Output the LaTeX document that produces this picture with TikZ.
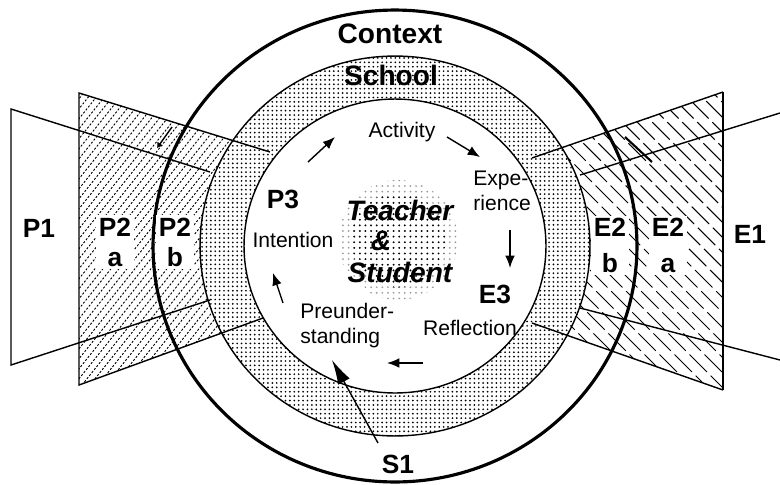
\documentclass[tikz,border=0pt]{standalone}
\usepackage{fontspec}
\setmainfont{Liberation Sans}
\usetikzlibrary{arrows.meta,patterns.meta}

\tikzset{
  bigLabel/.style={font=\fontsize{15}{17}\selectfont\bfseries, inner sep=0pt},
  stepText/.style={font=\fontsize{12}{14.2}\selectfont, inner sep=0pt},
  cycArrow/.style={thick, -{Latex[length=7pt,width=5.5pt]}},
}

\begin{document}
\begin{tikzpicture}[x=0.02cm, y=-0.02cm]
\useasboundingbox (0,0) rectangle (780,484);

\coordinate (cO) at (395,246);
\coordinate (cCore) at (398,240);

% P wedges
\coordinate (cP1TL) at (11,109);
\coordinate (cP1TR) at (210,172);
\coordinate (cP1BL) at (11,365);
\coordinate (cP1BR) at (210,300);
\coordinate (cP2TL) at (79,93);
\coordinate (cP2TR) at (270,152);
\coordinate (cP2BL) at (79,385);
\coordinate (cP2BR) at (263,318);
% E wedges
\coordinate (cE1TR) at (780,113);
\coordinate (cE1TL) at (580,175);
\coordinate (cE1BR) at (780,360);
\coordinate (cE1BL) at (580,308);
\coordinate (cE2TR) at (723,92);
\coordinate (cE2TL) at (532,158);
\coordinate (cE2BR) at (723,390);
\coordinate (cE2BL) at (532,323);

% hatching
\begin{scope}
\clip (cP2TL) -- (cP2TR) -- (cP2BR) -- (cP2BL) -- cycle;
\foreach \x in {-170,-162,...,260}
    \draw[line width=0.5pt, dash pattern=on 1.2pt off 1pt] (\x,400) -- ++(256,-320);
\end{scope}
\begin{scope}
\clip (cE2TR) -- (cE2TL) -- (cE2BL) -- (cE2BR) -- cycle;
\foreach \x in {220,235,...,720}
    \draw[line width=0.6pt, dash pattern=on 14pt off 3pt] (\x,80) -- ++(320,320);
\end{scope}

% school ring and inner circle
\fill[white] (cO) ellipse (3.9cm and 3.8cm);
\fill[pattern={Dots[distance=2.5pt,radius=0.55pt]}] (cO) ellipse (3.9cm and 3.8cm);
\draw[thick] (cO) ellipse (3.9cm and 3.8cm);
\filldraw[thick, fill=white] (cO) ellipse (3.02cm and 2.94cm);

\fill[pattern={Dots[distance=3.2pt,radius=0.55pt]}, pattern color=black!40] (cCore) circle (1.2cm);
\fill[pattern={Dots[distance=3.2pt,radius=0.55pt]}] (cCore) circle (0.95cm);

% context
\draw[line width=1.8pt] (cO) ellipse (4.84cm and 4.72cm);

\draw[thick] (cP1TR) -- (cP1TL) -- (cP1BL) -- (cP1BR);
\draw[thick] (cP2TR) -- (cP2TL) -- (cP2BL) -- (cP2BR);
\draw[thick] (cE1TR) -- (cE1TL);
\draw[thick] (cE1BR) -- (cE1BL);
\draw[thick] (cE2TL) -- (cE2TR);
\draw[thick] (cE2BL) -- (cE2BR);
\draw[very thick] (cE2TR) -- (cE2BR);

\coordinate (cMarkA) at (172,127);
\coordinate (cMarkB) at (157,148);
\draw[thick, -{Latex[length=3pt,width=4pt]}] (cMarkA) -- (cMarkB);
\coordinate (cMarkC) at (625,137);
\coordinate (cMarkD) at (652,162);
\draw[line width=1.2pt] (cMarkC) -- (cMarkD);

% labels
\node[bigLabel, font=\fontsize{16}{18}\selectfont\bfseries, anchor=base] (nContext) at (390,43) {Context};
\node[bigLabel, font=\fontsize{16}{18}\selectfont\bfseries, anchor=base] (nSchool) at (391,85) {School};
\node[bigLabel, anchor=base] (nP1) at (39,237) {P1};
\node[bigLabel, align=center, fill=white, inner sep=1.5pt] (nP2a) at (115,242) {P2\\a};
\node[bigLabel, align=center, fill=white, inner sep=1.5pt] (nP2b) at (175,242) {P2\\b};
\node[bigLabel, font=\fontsize{15}{20.4}\selectfont\bfseries, align=center, fill=white, inner sep=1.5pt] (nE2b) at (610,245.5) {E2\\b};
\node[bigLabel, font=\fontsize{15}{20.4}\selectfont\bfseries, align=center, fill=white, inner sep=1.5pt] (nE2a) at (668,245.5) {E2\\a};
\node[bigLabel, anchor=base] (nE1) at (750,243) {E1};
\node[bigLabel, anchor=base] (nP3) at (283,208) {P3};
\node[bigLabel, anchor=base] (nE3) at (495,303) {E3};
\node[bigLabel, anchor=base] (nS1) at (398,473) {S1};

\node[stepText, anchor=base] (nIntention) at (293,247) {Intention};
\node[stepText, anchor=base] (nActivity) at (402,137) {Activity};
\node[stepText, anchor=west, align=left] (nExperience) at (473,191) {Expe-\\rience};
\node[stepText, anchor=base] (nReflection) at (470,335) {Reflection};
\node[stepText, anchor=west, align=left] (nPreunder) at (300,326) {Preunder-\\standing};

\node[bigLabel, font=\fontsize{16}{18}\selectfont\bfseries\itshape, anchor=base] (nTeacher) at (400,220) {Teacher};
\node[bigLabel, font=\fontsize{16}{18}\selectfont\bfseries\itshape, anchor=base] (nAnd) at (381,250) {\&};
\node[bigLabel, font=\fontsize{16}{18}\selectfont\bfseries\itshape, anchor=base] (nStudent) at (400,282) {Student};

% cycle arrows
\coordinate (cA1) at (308,162);
\coordinate (cA2) at (335,137);
\coordinate (cB1) at (447,137);
\coordinate (cB2) at (480,157);
\coordinate (cC1) at (510,230);
\coordinate (cC2) at (510,268);
\coordinate (cD1) at (423,363);
\coordinate (cD2) at (387,363);
\coordinate (cF1) at (283,303);
\coordinate (cF2) at (273,273);
\draw[cycArrow] (cA1) -- (cA2);
\draw[cycArrow] (cB1) -- (cB2);
\draw[cycArrow] (cC1) -- (cC2);
\draw[cycArrow] (cD1) -- (cD2);
\draw[cycArrow] (cF1) -- (cF2);

\coordinate (cS1Foot) at (378,443);
\coordinate (cS1Tip) at (332,360);
\draw[thick, -{Latex[length=14pt,width=7.5pt]}] (cS1Foot) -- (cS1Tip);

\end{tikzpicture}
\end{document}
